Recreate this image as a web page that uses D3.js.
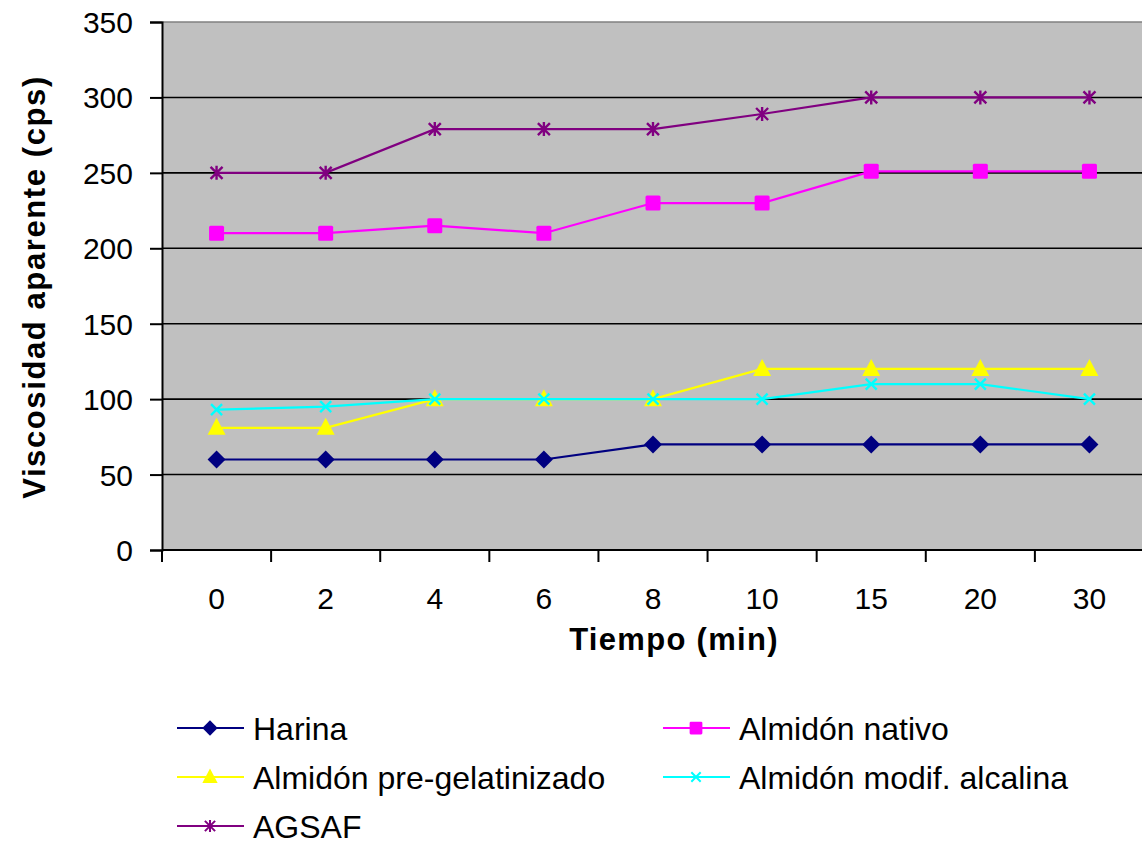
<!DOCTYPE html>
<html>
<head>
<meta charset="utf-8">
<script src="https://cdn.jsdelivr.net/npm/d3@7"></script>
<style>
  html, body { margin: 0; padding: 0; background: #fff; }
  svg { display: block; font-family: "Liberation Sans", Arial, sans-serif; }
</style>
</head>
<body>
<svg id="chart" width="1142" height="851"></svg>
<script>
// Viscosidad aparente vs. tiempo
const categories = ["0", "2", "4", "6", "8", "10", "15", "20", "30"];
const harina = [60, 60, 60, 60, 70, 70, 70, 70, 70];
const almidonNativo = [210, 210, 215, 210, 230, 230, 251, 251, 251];
const almidonPregel = [81, 81, 100, 100, 100, 120, 120, 120, 120];
const almidonAlcalina = [93, 95, 100, 100, 100, 100, 110, 110, 100];
const agsaf = [250, 250, 279, 279, 279, 289, 300, 300, 300];
const yTicks = [0, 50, 100, 150, 200, 250, 300, 350];

const series = [
  { name: "Harina", values: harina, color: "#000080", marker: "diamond" },
  { name: "Almidón nativo", values: almidonNativo, color: "#FF00FF", marker: "square" },
  { name: "Almidón pre-gelatinizado", values: almidonPregel, color: "#FFFF00", marker: "triangle" },
  { name: "Almidón modif. alcalina", values: almidonAlcalina, color: "#00FFFF", marker: "x" },
  { name: "AGSAF", values: agsaf, color: "#800080", marker: "star" }
];

const svg = d3.select("#chart");
const plot = { left: 162, right: 1144, top: 22, bottom: 550 };

const x = d3.scaleBand().domain(categories).range([plot.left, plot.right]);
const y = d3.scaleLinear().domain([0, 350]).range([plot.bottom, plot.top]);
const cx = c => x(c) + x.bandwidth() / 2;

// plot background
svg.append("rect")
  .attr("x", plot.left).attr("y", plot.top)
  .attr("width", plot.right - plot.left).attr("height", plot.bottom - plot.top)
  .attr("fill", "#C0C0C0");

// horizontal gridlines
svg.append("g").selectAll("line")
  .data(yTicks.filter(t => t > 0))
  .join("line")
  .attr("x1", plot.left).attr("x2", plot.right)
  .attr("y1", d => y(d)).attr("y2", d => y(d))
  .attr("stroke", d => d === 350 ? "#808080" : "#000")
  .attr("stroke-width", 1.6);

// y axis
const yAxis = svg.append("g")
  .attr("transform", `translate(${plot.left},0)`)
  .call(d3.axisLeft(y).tickValues(yTicks).tickSize(12).tickPadding(17));
yAxis.select(".domain").attr("stroke", "#000").attr("stroke-width", 2);
yAxis.selectAll(".tick line").attr("stroke", "#000").attr("stroke-width", 2);
yAxis.selectAll(".tick text").attr("font-size", 30).attr("fill", "#000")
  .attr("dy", "0.35em")
  .attr("font-family", "Liberation Sans, Arial, sans-serif");

// x axis: ticks at band boundaries
const xAxisG = svg.append("g").attr("transform", `translate(0,${plot.bottom})`);
xAxisG.append("line")
  .attr("x1", plot.left).attr("x2", plot.right)
  .attr("y1", 0).attr("y2", 0)
  .attr("stroke", "#000").attr("stroke-width", 2);
const boundaries = categories.map(c => x(c));
xAxisG.selectAll("line.tk")
  .data(boundaries)
  .join("line").attr("class", "tk")
  .attr("x1", d => d).attr("x2", d => d)
  .attr("y1", 0).attr("y2", 12)
  .attr("stroke", "#000").attr("stroke-width", 2);
xAxisG.selectAll("text")
  .data(categories)
  .join("text")
  .attr("x", d => cx(d)).attr("y", 59)
  .attr("text-anchor", "middle")
  .attr("font-size", 30)
  .text(d => d);

// axis titles
svg.append("text")
  .attr("x", 674).attr("y", 650)
  .attr("text-anchor", "middle")
  .attr("font-size", 31).attr("font-weight", "bold")
  .attr("letter-spacing", 1.3)
  .text("Tiempo (min)");
svg.append("text")
  .attr("transform", `translate(45,287) rotate(-90)`)
  .attr("text-anchor", "middle")
  .attr("font-size", 31).attr("font-weight", "bold")
  .attr("letter-spacing", 1.6)
  .text("Viscosidad aparente (cps)");

// marker drawing
function drawMarker(g, type, color) {
  switch (type) {
    case "diamond":
      g.append("path").attr("d", "M0,-9L9,0L0,9L-9,0Z").attr("fill", color);
      break;
    case "square":
      g.append("rect").attr("x", -7.5).attr("y", -7.5).attr("width", 15).attr("height", 15)
        .attr("rx", 1.5).attr("fill", color);
      break;
    case "triangle":
      g.append("path").attr("d", "M0,-10L9,7L-9,7Z").attr("fill", color);
      break;
    case "x":
      g.append("path").attr("d", "M-5.5,-5.5L5.5,5.5M-5.5,5.5L5.5,-5.5")
        .attr("stroke", color).attr("stroke-width", 2.4).attr("fill", "none");
      break;
    case "star":
      g.append("path").attr("d", "M-6,-6L6,6M-6,6L6,-6M0,-7L0,7")
        .attr("stroke", color).attr("stroke-width", 2.4).attr("fill", "none");
      break;
  }
}

const line = d3.line().x((d, i) => cx(categories[i])).y(d => y(d));

series.forEach(s => {
  svg.append("path")
    .datum(s.values)
    .attr("d", line)
    .attr("fill", "none")
    .attr("stroke", s.color)
    .attr("stroke-width", 2.2);
  s.values.forEach((v, i) => {
    const g = svg.append("g").attr("transform", `translate(${cx(categories[i])},${y(v)})`);
    drawMarker(g, s.marker, s.color);
  });
});

// legend
const legendPos = [
  { x: 177, y: 728 },
  { x: 663, y: 728 },
  { x: 177, y: 777 },
  { x: 663, y: 777 },
  { x: 177, y: 826 }
];
series.forEach((s, i) => {
  const p = legendPos[i];
  const g = svg.append("g").attr("transform", `translate(${p.x},${p.y})`);
  g.append("line").attr("x1", 0).attr("x2", 67).attr("y1", 0).attr("y2", 0)
    .attr("stroke", s.color).attr("stroke-width", 2.2);
  const m = g.append("g").attr("transform", "translate(33,0) scale(0.85)");
  drawMarker(m, s.marker, s.color);
  g.append("text").attr("x", 76).attr("y", 11.5)
    .attr("font-size", 32)
    .text(s.name);
});
</script>
</body>
</html>
